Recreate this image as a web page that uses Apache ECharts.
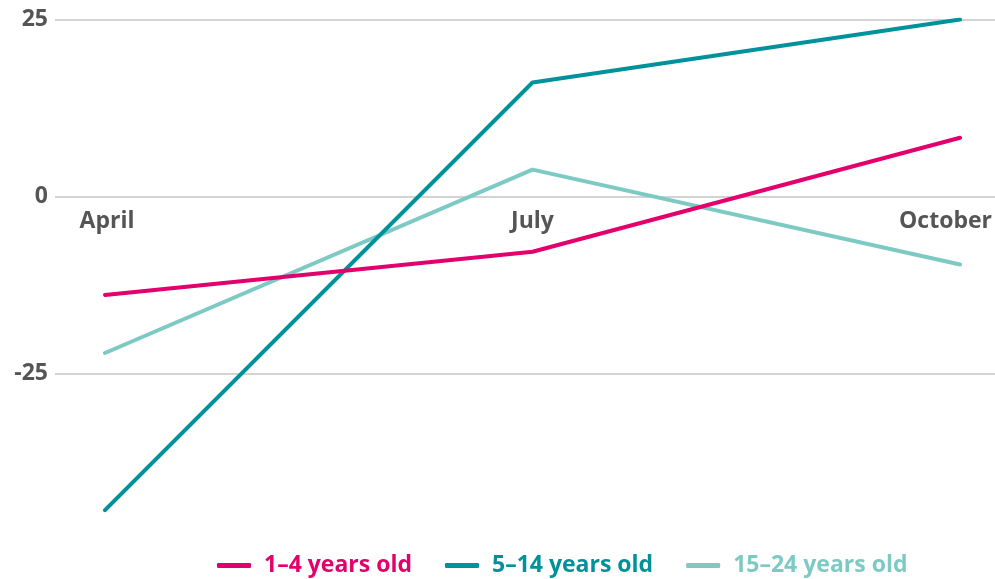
<!DOCTYPE html>
<html>
<head>
<meta charset="utf-8">
<script src="https://cdn.jsdelivr.net/npm/echarts@6/dist/echarts.min.js"></script>
<style>
  html, body { margin: 0; padding: 0; background: #fff; }
  #main { width: 995px; height: 579px; }
</style>
</head>
<body>
<div id="main"></div>
<script>
// data
const categories = ['April', 'July', 'October']
const seriesNames = ['1–4 years old', '5–14 years old', '15–24 years old']
const age1to4 = [-13.9, -7.8, 8.3]
const age5to14 = [-44.3, 16.1, 25.0]
const age15to24 = [-22.1, 3.8, -9.6]
const yTicks = [-50, -25, 0, 25]

const colors = ['#e3006c', '#00929b', '#7dcac5']
const textColor = '#555555'
const font = 'Open Sans'

const chart = echarts.init(document.getElementById('main'))

const yRange = { min: yTicks[0], max: yTicks[yTicks.length - 1], interval: 25 }
const gridTop = 19.5
const gridBottom = 28.5
// distance from the grid bottom up to the zero line
const plotH = 579 - gridTop - gridBottom
const zeroOffset = plotH * (0 - yRange.min) / (yRange.max - yRange.min)

const labelStyle = { color: textColor, fontFamily: font, fontSize: 23, fontWeight: 'bold' }

chart.setOption({
  animation: false,
  grid: [
    // wide grid, only for the y labels and the grid lines
    { left: 55, right: 0, top: gridTop, bottom: gridBottom },
    // grid where the lines are drawn
    { left: 105, right: 34, top: gridTop, bottom: gridBottom }
  ],
  legend: {
    bottom: -3,
    left: 212,
    icon: 'roundRect',
    itemWidth: 34,
    itemHeight: 5,
    itemGap: 33,
    textStyle: { fontFamily: font, fontSize: 23, fontWeight: 'bold', padding: [0, 0, 0, 8] },
    data: seriesNames.map((n, i) => ({ name: n, textStyle: { color: colors[i] } }))
  },
  xAxis: [
    { gridIndex: 0, type: 'value', min: 0, max: 1, show: false },
    {
      gridIndex: 1,
      type: 'category',
      data: categories,
      boundaryGap: false,
      position: 'bottom',
      offset: -zeroOffset, // put the month labels just under the zero line
      axisLine: { show: false, onZero: false },
      axisTick: { show: false },
      splitLine: { show: false },
      axisLabel: Object.assign({
        margin: 13,
        formatter: function (v) {
          if (v === 'October') return '{r|' + v + '}'
          if (v === 'April') return '{l|' + v + '}'
          return v
        },
        rich: {
          r: Object.assign({ padding: [0, 29, 0, 0] }, labelStyle),
          l: Object.assign({ padding: [0, 0, 0, 4] }, labelStyle)
        }
      }, labelStyle)
    }
  ],
  yAxis: [
    {
      gridIndex: 0,
      type: 'value',
      min: yRange.min,
      max: yRange.max,
      interval: yRange.interval,
      axisLine: { show: false },
      axisTick: { show: false },
      splitLine: {
        show: true,
        lineStyle: { color: ['transparent', '#c4c4c4', '#c4c4c4', '#c4c4c4'], width: 1.5 }
      },
      axisLabel: Object.assign({ showMinLabel: false, margin: 7 }, labelStyle)
    },
    {
      gridIndex: 1,
      type: 'value',
      min: yRange.min,
      max: yRange.max,
      interval: yRange.interval,
      show: false
    }
  ],
  series: [age1to4, age5to14, age15to24].map((d, i) => ({
    name: seriesNames[i],
    type: 'line',
    xAxisIndex: 1,
    yAxisIndex: 1,
    data: d,
    symbol: 'none',
    color: colors[i],
    lineStyle: { width: 4, color: colors[i], cap: 'round', join: 'round' },
    z: 3 - i
  }))
})
</script>
</body>
</html>
